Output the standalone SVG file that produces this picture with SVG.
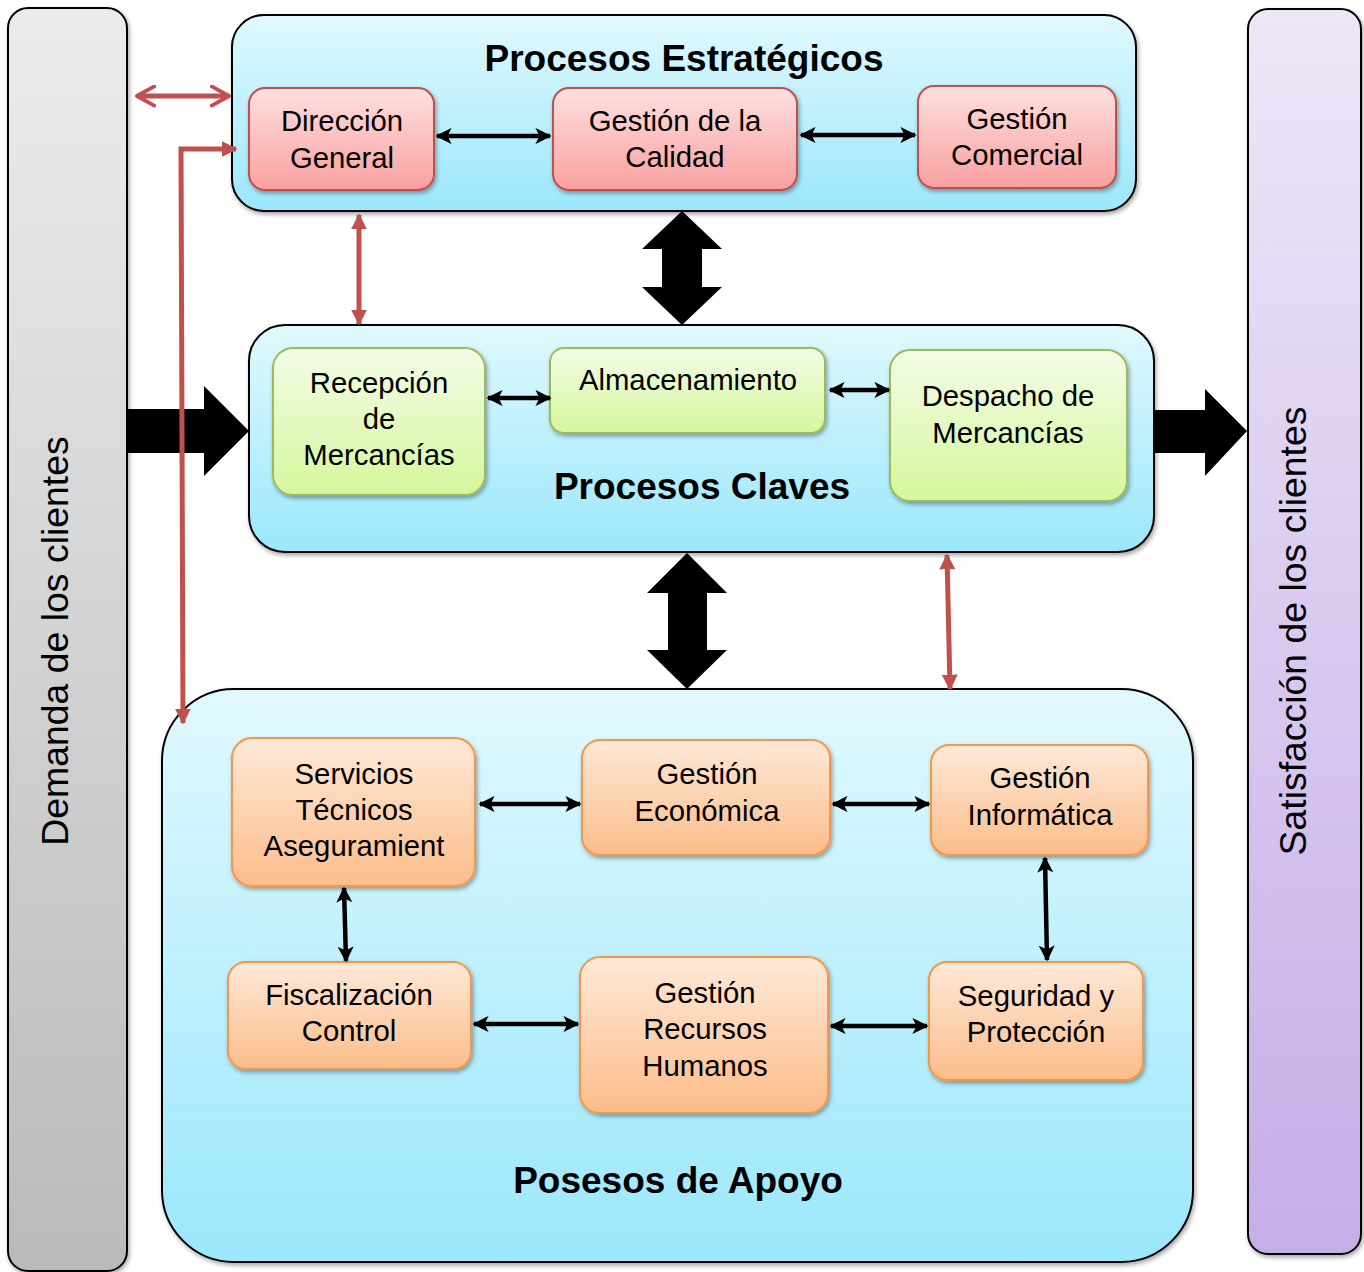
<svg xmlns="http://www.w3.org/2000/svg" width="1364" height="1272" viewBox="0 0 1364 1272">
  <defs>
    <linearGradient id="gGray" x1="0" y1="0" x2="0" y2="1">
      <stop offset="0" stop-color="#ececec"/>
      <stop offset="1" stop-color="#bababa"/>
    </linearGradient>
    <linearGradient id="gPurple" x1="0" y1="0" x2="0" y2="1">
      <stop offset="0" stop-color="#ede7f7"/>
      <stop offset="1" stop-color="#c6ade7"/>
    </linearGradient>
    <linearGradient id="gBlue" x1="0" y1="0" x2="0" y2="1">
      <stop offset="0" stop-color="#e1f9fe"/>
      <stop offset="1" stop-color="#9be7fc"/>
    </linearGradient>
    <linearGradient id="gRed" x1="0" y1="0" x2="0" y2="1">
      <stop offset="0" stop-color="#fee0e0"/>
      <stop offset="1" stop-color="#f8a09f"/>
    </linearGradient>
    <linearGradient id="gGreen" x1="0" y1="0" x2="0" y2="1">
      <stop offset="0" stop-color="#f3fce6"/>
      <stop offset="1" stop-color="#d5f79c"/>
    </linearGradient>
    <linearGradient id="gOrange" x1="0" y1="0" x2="0" y2="1">
      <stop offset="0" stop-color="#fee9d8"/>
      <stop offset="1" stop-color="#fbbd8a"/>
    </linearGradient>
    <filter id="shadow" x="-10%" y="-10%" width="120%" height="125%">
      <feDropShadow dx="1.5" dy="2.5" stdDeviation="2" flood-color="#000" flood-opacity="0.35"/>
    </filter>
    <marker id="blackHead" viewBox="0 0 10 10" refX="9" refY="5" markerWidth="3.6" markerHeight="3.6" orient="auto-start-reverse" markerUnits="strokeWidth">
      <path d="M0,0 L10,5 L0,10 L2.5,5 z" fill="#000"/>
    </marker>
    <marker id="redHead" viewBox="0 0 10 10" refX="9" refY="5" markerWidth="3.2" markerHeight="3.2" orient="auto-start-reverse" markerUnits="strokeWidth">
      <path d="M0,0 L10,5 L0,10 z" fill="#c0504d"/>
    </marker>
    <marker id="redOpen" viewBox="0 0 12 12" refX="10" refY="6" markerWidth="4.6" markerHeight="4.6" orient="auto-start-reverse" markerUnits="strokeWidth">
      <path d="M1,1 L10,6 L1,11" fill="none" stroke="#c0504d" stroke-width="2" stroke-linecap="round" stroke-linejoin="round"/>
    </marker>
  </defs>
  <style>
    .frame { stroke: #000; stroke-width: 2; filter: url(#shadow); }
    .red { fill: url(#gRed); stroke: #c0504d; stroke-width: 2; filter: url(#shadow); }
    .green { fill: url(#gGreen); stroke: #9bbb59; stroke-width: 2; filter: url(#shadow); }
    .orange { fill: url(#gOrange); stroke: #f79646; stroke-width: 2; filter: url(#shadow); }
    .lbl { font-family: "Liberation Sans", Arial, sans-serif; font-size: 29.3px; fill: #000; text-anchor: middle; }
    .title { font-family: "Liberation Sans", Arial, sans-serif; font-size: 37px; font-weight: bold; fill: #000; text-anchor: middle; }
    .side { font-family: "Liberation Sans", Arial, sans-serif; font-size: 37.4px; fill: #000; text-anchor: middle; }
    .conn { stroke: #000; stroke-width: 4.5; fill: none; marker-start: url(#blackHead); marker-end: url(#blackHead); }
    .rconn { stroke: #c0504d; stroke-width: 5; fill: none; }
    .big { fill: #000; }
  </style>

  <!-- side columns -->
  <g id="demanda">
    <rect x="8" y="8" width="119" height="1263" rx="20" fill="url(#gGray)" class="frame"/>
    <text class="side" transform="translate(68,641) rotate(-90)">Demanda de los clientes</text>
  </g>
  <g id="satisfaccion">
    <rect x="1248" y="9" width="113" height="1245" rx="20" fill="url(#gPurple)" class="frame"/>
    <text class="side" transform="translate(1306,631) rotate(-90)">Satisfacción de los clientes</text>
  </g>

  <!-- strategic processes -->
  <g id="estrategicos">
    <rect x="232" y="15" width="904" height="196" rx="32" fill="url(#gBlue)" class="frame"/>
    <text class="title" x="684" y="71">Procesos Estratégicos</text>
  </g>
  <g id="direccion">
    <rect x="249" y="88" width="185" height="102" rx="16" class="red"/>
    <text class="lbl" x="342" y="131">Dirección</text>
    <text class="lbl" x="342" y="168">General</text>
  </g>
  <g id="calidad">
    <rect x="553" y="88" width="244" height="102" rx="16" class="red"/>
    <text class="lbl" x="675" y="131">Gestión de la</text>
    <text class="lbl" x="675" y="167">Calidad</text>
  </g>
  <g id="comercial">
    <rect x="918" y="86" width="198" height="102" rx="16" class="red"/>
    <text class="lbl" x="1017" y="129">Gestión</text>
    <text class="lbl" x="1017" y="165">Comercial</text>
  </g>

  <!-- key processes -->
  <g id="claves">
    <rect x="249" y="325" width="905" height="227" rx="36" fill="url(#gBlue)" class="frame"/>
    <text class="title" x="702" y="499">Procesos Claves</text>
  </g>
  <g id="recepcion">
    <rect x="273" y="348" width="212" height="147" rx="20" class="green"/>
    <text class="lbl" x="379" y="393">Recepción</text>
    <text class="lbl" x="379" y="429">de</text>
    <text class="lbl" x="379" y="465">Mercancías</text>
  </g>
  <g id="almacenamiento">
    <rect x="550" y="348" width="275" height="85" rx="14" class="green"/>
    <text class="lbl" x="688" y="390">Almacenamiento</text>
  </g>
  <g id="despacho">
    <rect x="890" y="350" width="237" height="151" rx="20" class="green"/>
    <text class="lbl" x="1008" y="406">Despacho de</text>
    <text class="lbl" x="1008" y="443">Mercancías</text>
  </g>

  <!-- support processes -->
  <g id="apoyo">
    <rect x="162" y="689" width="1031" height="573" rx="72" fill="url(#gBlue)" class="frame"/>
    <text class="title" x="678" y="1193">Posesos de Apoyo</text>
  </g>
  <g id="servicios">
    <rect x="232" y="738" width="243" height="148" rx="20" class="orange"/>
    <text class="lbl" x="354" y="784">Servicios</text>
    <text class="lbl" x="354" y="820">Técnicos</text>
    <text class="lbl" x="354" y="856">Aseguramient</text>
  </g>
  <g id="economica">
    <rect x="582" y="740" width="248" height="115" rx="18" class="orange"/>
    <text class="lbl" x="707" y="784">Gestión</text>
    <text class="lbl" x="707" y="821">Económica</text>
  </g>
  <g id="informatica">
    <rect x="931" y="745" width="217" height="110" rx="18" class="orange"/>
    <text class="lbl" x="1040" y="788">Gestión</text>
    <text class="lbl" x="1040" y="825">Informática</text>
  </g>
  <g id="fiscalizacion">
    <rect x="228" y="962" width="243" height="107" rx="18" class="orange"/>
    <text class="lbl" x="349" y="1005">Fiscalización</text>
    <text class="lbl" x="349" y="1041">Control</text>
  </g>
  <g id="rrhh">
    <rect x="580" y="957" width="248" height="156" rx="20" class="orange"/>
    <text class="lbl" x="705" y="1003">Gestión</text>
    <text class="lbl" x="705" y="1039">Recursos</text>
    <text class="lbl" x="705" y="1076">Humanos</text>
  </g>
  <g id="seguridad">
    <rect x="929" y="962" width="214" height="118" rx="18" class="orange"/>
    <text class="lbl" x="1036" y="1006">Seguridad y</text>
    <text class="lbl" x="1036" y="1042">Protección</text>
  </g>

  <!-- connectors -->
  <g id="connectors">
    <!-- block arrows -->
    <polygon class="big" points="127,409 204,409 204,386 249,431 204,476 204,453 127,453"/>
    <polygon class="big" points="1153,410 1205,410 1205,389 1247,431 1205,476 1205,453 1153,453"/>
    <polygon class="big" points="682,211 722,249 702,249 702,287 722,287 682,325 642,287 662,287 662,249 642,249"/>
    <polygon class="big" points="687,553 727,593 707,593 707,650 727,650 687,689 647,650 668,650 668,593 647,593"/>

    <!-- black links -->
    <line class="conn" x1="437" y1="136" x2="550" y2="136"/>
    <line class="conn" x1="801" y1="135" x2="915" y2="135"/>
    <line class="conn" x1="488" y1="398" x2="550" y2="398"/>
    <line class="conn" x1="830" y1="390" x2="889" y2="390"/>
    <line class="conn" x1="480" y1="804" x2="580" y2="804"/>
    <line class="conn" x1="833" y1="804" x2="929" y2="804"/>
    <line class="conn" x1="344" y1="888" x2="346" y2="961"/>
    <line class="conn" x1="1045" y1="858" x2="1047" y2="960"/>
    <line class="conn" x1="474" y1="1024" x2="578" y2="1024"/>
    <line class="conn" x1="831" y1="1026" x2="927" y2="1026"/>

    <!-- red links -->
    <line class="rconn" x1="137" y1="96" x2="229" y2="96" marker-start="url(#redOpen)" marker-end="url(#redOpen)"/>
    <polyline class="rconn" points="183,723 181,149 236,149" marker-start="url(#redHead)" marker-end="url(#redHead)"/>
    <line class="rconn" x1="359" y1="215" x2="359" y2="324" marker-start="url(#redHead)" marker-end="url(#redHead)"/>
    <line class="rconn" x1="947" y1="555" x2="950" y2="689" marker-start="url(#redHead)" marker-end="url(#redHead)"/>
  </g>
</svg>
